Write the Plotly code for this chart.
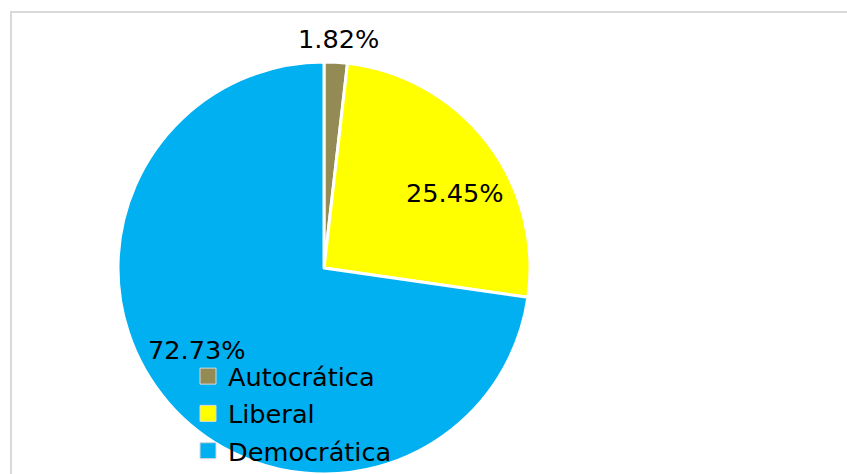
import plotly.graph_objects as go

# Regime categories and counts (55 cases in total)
categories = ["Autocrática", "Liberal", "Democrática"]
counts = [1, 14, 40]
colors = ["#948A54", "#FFFF00", "#00B0F0"]

W, H = 847, 474
cx, cy, r = 324, 268, 206  # pie centre and radius in pixels
FONT = 25.6

# Where each percentage label sits, in pixels from the top-left corner
label_px = [(338, 39), (455, 193), (197, 350)]

total = sum(counts)
pct_text = [f"{c / total:.2%}" for c in counts]

fig = go.Figure()
fig.add_trace(
    go.Pie(
        labels=categories,
        values=counts,
        sort=False,
        direction="clockwise",
        rotation=0,
        marker=dict(colors=colors, line=dict(color="white", width=3)),
        textinfo="none",
        domain=dict(
            x=[(cx - r) / W, (cx + r) / W],
            y=[(H - cy - r) / H, (H - cy + r) / H],
        ),
        hoverinfo="label+percent",
        showlegend=False,
    )
)

# Legend entries drawn as square markers
for name, col in zip(categories, colors):
    fig.add_trace(
        go.Scatter(
            x=[None],
            y=[None],
            mode="markers",
            name=name,
            legendgroup=name,
            marker=dict(symbol="square", size=17, color=col,
                        line=dict(color="#D9D9D9", width=1)),
            hoverinfo="skip",
        )
    )

annotations = [
    dict(
        x=px / W,
        y=1 - py / H,
        xref="paper",
        yref="paper",
        text=t,
        showarrow=False,
        xanchor="center",
        yanchor="middle",
        font=dict(family="DejaVu Sans", size=FONT, color="black"),
    )
    for t, (px, py) in zip(pct_text, label_px)
]

fig.update_layout(
    width=W,
    height=H,
    margin=dict(l=0, r=0, t=0, b=0),
    paper_bgcolor="white",
    plot_bgcolor="white",
    font=dict(family="DejaVu Sans", size=FONT, color="black"),
    xaxis=dict(visible=False),
    yaxis=dict(visible=False),
    showlegend=True,
    legend=dict(
        x=188 / W,
        y=1 - 353 / H,
        xanchor="left",
        yanchor="top",
        bgcolor="rgba(0,0,0,0)",
        font=dict(family="DejaVu Sans", size=FONT, color="black"),
        itemclick=False,
        itemdoubleclick=False,
        tracegroupgap=1,
        itemwidth=30,
    ),
    annotations=annotations,
    shapes=[
        dict(
            type="rect",
            xref="paper",
            yref="paper",
            x0=11 / W,
            x1=1.05,
            y0=-0.05,
            y1=1 - 12 / H,
            line=dict(color="#D9D9D9", width=2),
            fillcolor="rgba(0,0,0,0)",
            layer="below",
        )
    ],
)

fig.write_html("out.html")
